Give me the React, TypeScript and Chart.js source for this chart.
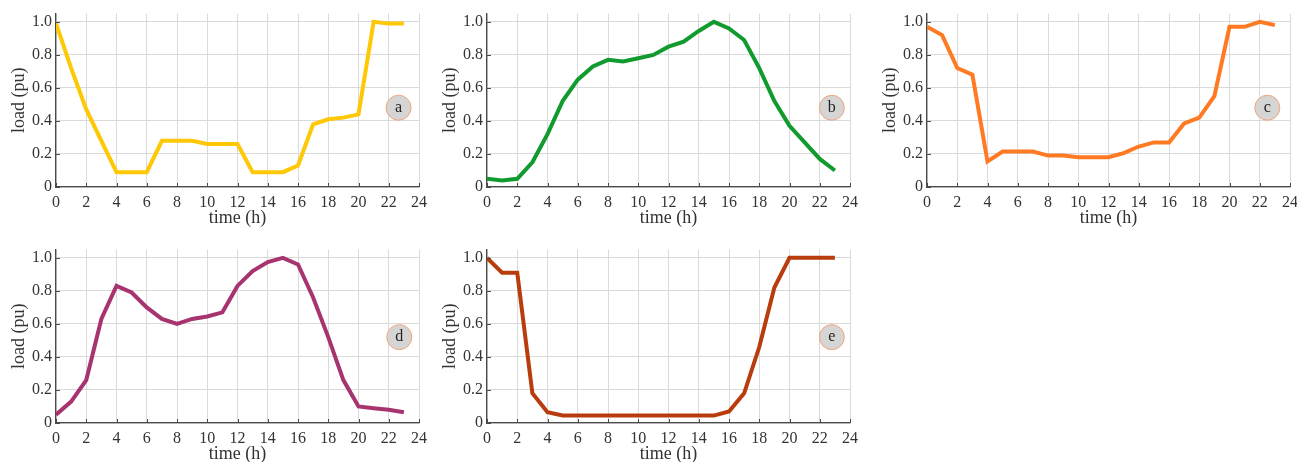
import React, { useEffect, useRef } from "react";
import { Chart, registerables } from "chart.js";

Chart.register(...registerables);

// Hour of day for each sample
const hours = [0, 1, 2, 3, 4, 5, 6, 7, 8, 9, 10, 11, 12, 13, 14, 15, 16, 17, 18, 19, 20, 21, 22, 23];

// Normalised daily load profiles (pu)
const loadA = [0.99, 0.72, 0.47, 0.28, 0.09, 0.09, 0.09, 0.28, 0.28, 0.28, 0.26, 0.26, 0.26, 0.09, 0.09, 0.09, 0.13, 0.38, 0.41, 0.42, 0.44, 1.0, 0.99, 0.99];
const loadB = [0.05, 0.04, 0.05, 0.15, 0.32, 0.52, 0.65, 0.73, 0.77, 0.76, 0.78, 0.8, 0.85, 0.88, 0.945, 1.0, 0.96, 0.89, 0.72, 0.52, 0.37, 0.27, 0.17, 0.1];
const loadC = [0.97, 0.92, 0.72, 0.68, 0.155, 0.215, 0.215, 0.215, 0.19, 0.19, 0.18, 0.18, 0.18, 0.205, 0.245, 0.27, 0.27, 0.385, 0.42, 0.55, 0.97, 0.97, 1.0, 0.98];
const loadD = [0.05, 0.13, 0.26, 0.63, 0.83, 0.79, 0.7, 0.63, 0.6, 0.63, 0.645, 0.67, 0.83, 0.92, 0.975, 1.0, 0.96, 0.76, 0.52, 0.26, 0.1, 0.09, 0.08, 0.065];
const loadE = [1.0, 0.91, 0.91, 0.18, 0.065, 0.045, 0.045, 0.045, 0.045, 0.045, 0.045, 0.045, 0.045, 0.045, 0.045, 0.045, 0.07, 0.18, 0.46, 0.82, 1.0, 1.0, 1.0, 1.0];

// Axis settings
const xMax = 24;
const xStep = 2;
const yMax = 1.05;
const yStep = 0.2;
const xTitle = "time (h)";
const yTitle = "load (pu)";

const FONT = "'Liberation Serif', 'Times New Roman', serif";
const TEXT = "#333333";
const AXIS = "#4a4a4a";
const GRID = "#dadada";

const Y_AXIS_W = 56;
const X_AXIS_H = 42;
const PAD_TOP = 12;
const PAD_RIGHT = 16;
const CANVAS_W = 435;
const CANVAS_H = 229;

type PanelProps = {
  tag: string;
  values: number[];
  color: string;
  left: number;
  top: number;
  badgeX: number;
  badgeY: number;
};

// Inward tick marks and the round panel tag
const decorations = {
  id: "decorations",
  afterDraw(chart: any, _args: any, opts: any) {
    const { ctx, chartArea, scales } = chart;
    const x = scales.x;
    const y = scales.y;
    ctx.save();
    ctx.strokeStyle = AXIS;
    ctx.lineWidth = 1;
    ctx.beginPath();
    x.ticks.forEach((t: any) => {
      const px = Math.round(x.getPixelForValue(t.value)) + 0.5;
      ctx.moveTo(px, chartArea.bottom);
      ctx.lineTo(px, chartArea.bottom - 4);
    });
    y.ticks.forEach((t: any) => {
      const py = Math.round(y.getPixelForValue(t.value)) + 0.5;
      ctx.moveTo(chartArea.left, py);
      ctx.lineTo(chartArea.left + 4, py);
    });
    ctx.stroke();

    const cx = x.getPixelForValue(opts.x);
    const cy = y.getPixelForValue(opts.y);
    ctx.beginPath();
    ctx.arc(cx, cy, 12.5, 0, Math.PI * 2);
    ctx.fillStyle = "#d5d5d5";
    ctx.fill();
    ctx.strokeStyle = "#f2a477";
    ctx.lineWidth = 1;
    ctx.stroke();
    ctx.fillStyle = "#222222";
    ctx.font = `16px ${FONT}`;
    ctx.textAlign = "center";
    ctx.textBaseline = "middle";
    ctx.fillText(opts.text, cx, cy);
    ctx.restore();
  },
};

function Panel({ tag, values, color, left, top, badgeX, badgeY }: PanelProps) {
  const ref = useRef<HTMLCanvasElement | null>(null);

  useEffect(() => {
    if (!ref.current) return;
    const chart = new Chart(ref.current, {
      type: "line",
      data: {
        datasets: [
          {
            data: hours.map((h, i) => ({ x: h, y: values[i] })),
            borderColor: color,
            borderWidth: 4,
            pointRadius: 0,
            tension: 0,
            fill: false,
          },
        ],
      },
      options: {
        responsive: false,
        animation: false,
        layout: { padding: { top: PAD_TOP, right: PAD_RIGHT, left: 0, bottom: 0 } },
        plugins: {
          legend: { display: false },
          tooltip: { enabled: false },
          decorations: { x: badgeX, y: badgeY, text: tag },
        } as any,
        scales: {
          x: {
            type: "linear",
            min: 0,
            max: xMax,
            afterFit: (s: any) => {
              s.height = X_AXIS_H;
            },
            ticks: {
              stepSize: xStep,
              autoSkip: false,
              maxRotation: 0,
              padding: 6,
              color: TEXT,
              font: { family: FONT, size: 16 },
            },
            grid: { color: GRID, lineWidth: 1, drawTicks: false },
            border: { color: AXIS, width: 1.3 },
            title: {
              display: true,
              text: xTitle,
              color: TEXT,
              font: { family: FONT, size: 18 },
              padding: { top: 0, bottom: 0 },
            },
          },
          y: {
            type: "linear",
            min: 0,
            max: yMax,
            afterFit: (s: any) => {
              s.width = Y_AXIS_W;
            },
            ticks: {
              stepSize: yStep,
              includeBounds: false,
              padding: 4,
              color: TEXT,
              font: { family: FONT, size: 16 },
              callback: (v: any) => (Number(v) === 0 ? "0" : Number(v).toFixed(1)),
            },
            grid: { color: GRID, lineWidth: 1, drawTicks: false },
            border: { color: AXIS, width: 1.3 },
            title: {
              display: true,
              text: yTitle,
              color: TEXT,
              font: { family: FONT, size: 18 },
              padding: { top: 8, bottom: 0 },
            },
          },
        },
      },
      plugins: [decorations],
    });
    return () => chart.destroy();
  }, [tag, values, color, badgeX, badgeY]);

  return (
    <canvas
      ref={ref}
      width={CANVAS_W}
      height={CANVAS_H}
      style={{ position: "absolute", left, top, width: CANVAS_W, height: CANVAS_H }}
    />
  );
}

export default function App() {
  return (
    <div
      style={{
        position: "fixed",
        left: 0,
        top: 0,
        width: 1297,
        height: 462,
        overflow: "hidden",
        background: "#ffffff",
      }}
    >
      <Panel tag="a" values={loadA} color="#ffc805" left={0} top={0} badgeX={22.65} badgeY={0.48} />
      <Panel tag="b" values={loadB} color="#119a2e" left={431} top={0} badgeX={22.8} badgeY={0.48} />
      <Panel tag="c" values={loadC} color="#ff7a22" left={871} top={0} badgeX={22.5} badgeY={0.48} />
      <Panel tag="d" values={loadD} color="#a8346f" left={0} top={236} badgeX={22.7} badgeY={0.52} />
      <Panel tag="e" values={loadE} color="#b83c0c" left={431} top={236} badgeX={22.8} badgeY={0.52} />
    </div>
  );
}
